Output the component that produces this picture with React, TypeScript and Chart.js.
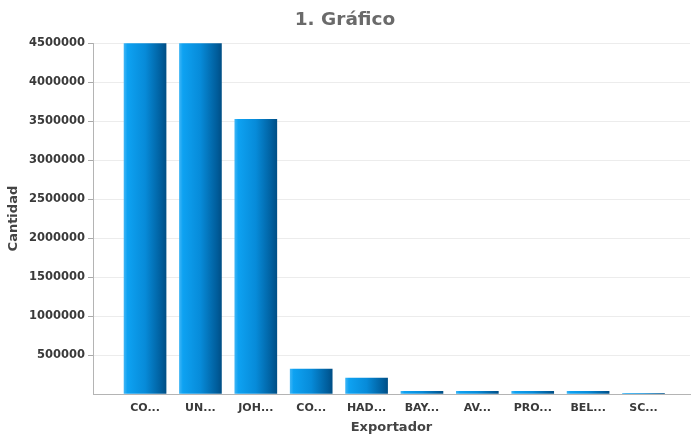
import React, { useEffect, useRef } from "react";
import { Chart, registerables } from "chart.js";

Chart.register(...registerables);

const categories = ["CO...", "UN...", "JOH...", "CO...", "HAD...", "BAY...", "AV...", "PRO...", "BEL...", "SC..."];
const cantidad = [4500000, 4500000, 3525000, 320000, 205000, 35000, 35000, 35000, 35000, 8000];
const yTicks = [0, 500000, 1000000, 1500000, 2000000, 2500000, 3000000, 3500000, 4000000, 4500000];
const chartTitle = "1. Gráfico";
const xTitle = "Exportador";
const yTitle = "Cantidad";

const FONT = "'DejaVu Sans', Verdana, sans-serif";

export default function App() {
  const ref = useRef<HTMLCanvasElement | null>(null);

  useEffect(() => {
    document.body.style.margin = "0";
    const canvas = ref.current;
    if (!canvas) return;
    const points = cantidad.map((v, i) => ({ x: i, y: v }));
    const chart = new Chart(canvas, {
      type: "bar",
      data: {
        datasets: [
          {
            data: points,
            barThickness: 42,
            borderWidth: 0,
            backgroundColor: (ctx: any) => {
              const c = ctx.chart;
              if (!c.chartArea || !c.scales.x) return "#0a8ad8";
              const cx = c.scales.x.getPixelForValue(ctx.dataIndex);
              const g = c.ctx.createLinearGradient(cx - 21, 0, cx + 21, 0);
              g.addColorStop(0, "#3cb4f5");
              g.addColorStop(0.08, "#0ea2f2");
              g.addColorStop(0.5, "#078bd9");
              g.addColorStop(0.9, "#005c9a");
              g.addColorStop(1, "#004f86");
              return g;
            },
          },
        ],
      },
      options: {
        animation: false,
        responsive: false,
        layout: { padding: { left: 0, right: 5, top: 0, bottom: 0 } },
        plugins: {
          legend: { display: false },
          tooltip: { enabled: false },
          title: {
            display: true,
            text: chartTitle,
            color: "#6a6a6a",
            font: { family: FONT, size: 18.5, weight: "bold" },
            padding: { top: 9, bottom: 12 },
          },
        },
        scales: {
          x: {
            type: "linear",
            offset: false,
            min: -0.94,
            max: 9.84,
            afterBuildTicks: (axis: any) => {
              axis.ticks = categories.map((_, i) => ({ value: i }));
            },
            afterFit: (axis: any) => {
              axis.height = 41;
            },
            grid: { display: false, drawTicks: false },
            border: { display: true, color: "#b4b4b4", width: 1 },
            ticks: {
              autoSkip: false,
              maxRotation: 0,
              padding: 8,
              color: "#3a3a3a",
              font: { family: FONT, size: 11, weight: "bold" },
              callback: (v: any) => categories[v as number] ?? "",
            },
            title: {
              display: true,
              text: xTitle,
              color: "#444",
              font: { family: FONT, size: 13, weight: "bold" },
              padding: { top: 0, bottom: 0 },
            },
          },
          y: {
            min: 0,
            max: 4500000,
            afterBuildTicks: (axis: any) => {
              axis.ticks = yTicks.map((v) => ({ value: v }));
            },
            afterFit: (axis: any) => {
              axis.width = 93;
            },
            grid: {
              color: "#ececec",
              tickColor: (ctx: any) => (ctx.tick && ctx.tick.value === 0 ? "rgba(0,0,0,0)" : "#aaaaaa"),
              tickLength: 5,
              drawTicks: true,
            },
            border: { display: true, color: "#b4b4b4", width: 1 },
            ticks: {
              padding: 3,
              color: "#3a3a3a",
              font: { family: FONT, size: 11.5, weight: "bold" },
              callback: (v: any) => (v === 0 ? "" : String(v)),
            },
            title: {
              display: true,
              text: yTitle,
              color: "#444",
              font: { family: FONT, size: 13, weight: "bold" },
              padding: { top: 6, bottom: 0 },
            },
          },
        },
      },
    } as any);
    return () => chart.destroy();
  }, []);

  return <canvas ref={ref} width={695} height={435} style={{ display: "block" }} />;
}
